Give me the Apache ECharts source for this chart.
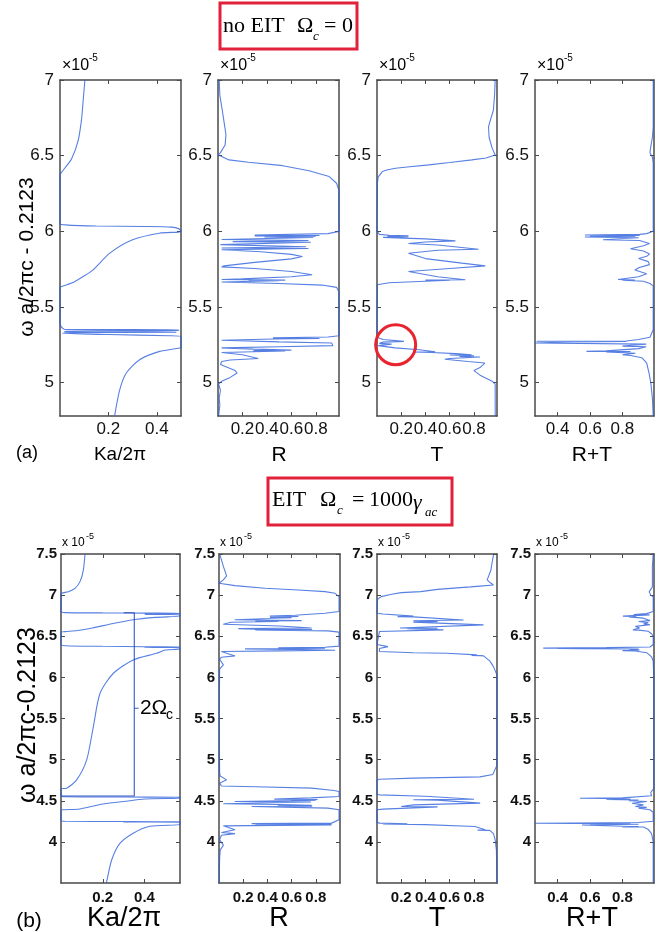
<!DOCTYPE html>
<html><head><meta charset="utf-8">
<script src="https://cdn.jsdelivr.net/npm/echarts@6/dist/echarts.min.js"></script>
<style>html,body{margin:0;padding:0;background:#fff}#c{width:669px;height:932px}</style>
</head><body><div id="c"></div>
<script>
// ---------------- DATA (x = value on panel axis, y = ω a/2πc - 0.2123 in units of 1e-5) ----------------
// (a) no EIT
const kaTopA = [[0.103,7.0],[0.096,6.87],[0.089,6.74],[0.075,6.60],[0.048,6.48],[0.021,6.42],[0.004,6.385],[0,6.38]];
const kaTopB = [[0,6.38],[0,6.05],[0.02,6.043],[0.15,6.035],[0.35,6.032],[0.46,6.028],[0.49,6.018],[0.5,6.0],[0.49,5.995],[0.41,5.988],[0.30,5.944],[0.206,5.856],[0.137,5.746],[0.096,5.702],[0.048,5.658],[0.007,5.636],[0,5.63],[0,5.40],[0.004,5.372],[0.02,5.352],[0.49,5.350],[0.49,5.344],[0.02,5.341],[0.02,5.335],[0.48,5.333],[0.05,5.33],[0.01,5.326],[0.2,5.318],[0.45,5.31],[0.5,5.305],[0.5,5.235],[0.494,5.229],[0.412,5.207],[0.329,5.152],[0.274,5.064],[0.247,4.954],[0.226,4.784]];
const rTop = [[0.01,7.0],[0.015,6.9],[0.035,6.8],[0.05,6.72],[0.065,6.64],[0.058,6.57],[0.02,6.52],[0.004,6.505],[0.09,6.472],[0.25,6.457],[0.53,6.434],[0.745,6.40],[0.91,6.362],[0.97,6.318],[0.99,6.27],[0.99,6.0],[0.9,5.985],[0.3,5.976],[0.83,5.973],[0.3,5.969],[0.8,5.966],[0.38,5.963],[0.78,5.959],[0.03,5.946],[0.74,5.94],[0.12,5.932],[0.76,5.928],[0.02,5.912],[0.72,5.898],[0.03,5.89],[0.74,5.887],[0.03,5.878],[0.35,5.865],[0.6,5.848],[0.69,5.834],[0.6,5.818],[0.3,5.795],[0.05,5.772],[0.03,5.765],[0.3,5.755],[0.6,5.735],[0.77,5.713],[0.6,5.70],[0.2,5.686],[0.03,5.682],[0.55,5.678],[0.25,5.676],[0.5,5.674],[0.03,5.665],[0.5,5.655],[0.85,5.645],[0.97,5.63],[0.99,5.60],[0.99,5.31],[0.9,5.302],[0.45,5.296],[0.83,5.292],[0.45,5.289],[0.03,5.28],[0.5,5.27],[0.93,5.262],[0.94,5.245],[0.5,5.238],[0.03,5.23],[0.29,5.222],[0.6,5.215],[0.29,5.212],[0.55,5.209],[0.03,5.2],[0.2,5.185],[0.33,5.16],[0.1,5.15],[0.03,5.14],[0.02,5.12],[0.08,5.10],[0.14,5.08],[0.156,5.064],[0.1,5.035],[0.03,5.01],[0.005,4.99],[0.02,4.95],[0.01,4.9],[0.015,4.85],[0.005,4.78]];
const tTop = [[0.975,7.0],[0.97,6.9],[0.96,6.8],[0.93,6.72],[0.92,6.69],[0.925,6.62],[0.95,6.55],[0.975,6.505],[0.9,6.485],[0.783,6.472],[0.6,6.455],[0.427,6.439],[0.25,6.425],[0.153,6.417],[0.08,6.405],[0.044,6.395],[0.01,6.36],[0.003,6.32],[0,6.0],[0.02,5.98],[0.1,5.974],[0.26,5.97],[0.085,5.967],[0.26,5.964],[0.05,5.96],[0.4,5.95],[0.647,5.937],[0.4,5.93],[0.26,5.92],[0.5,5.91],[0.838,5.882],[0.5,5.875],[0.26,5.855],[0.263,5.845],[0.4,5.82],[0.7,5.79],[0.893,5.772],[0.6,5.755],[0.26,5.735],[0.263,5.724],[0.5,5.70],[0.729,5.68],[0.4,5.678],[0.6,5.677],[0.1,5.66],[0.003,5.647],[0,5.3],[0.05,5.285],[0.222,5.273],[0.05,5.268],[0.02,5.26],[0.12,5.255],[0.01,5.245],[0.15,5.23],[0.35,5.218],[0.48,5.205],[0.3,5.203],[0.45,5.2],[0.65,5.192],[0.78,5.185],[0.6,5.183],[0.8,5.178],[0.68,5.174],[0.85,5.17],[0.6,5.16],[0.56,5.155],[0.75,5.14],[0.89,5.13],[0.85,5.1],[0.8,5.08],[0.85,5.05],[0.95,5.01],[0.975,4.99],[0.975,4.78]];
const rtTop = [[0.99,7.0],[0.99,6.69],[0.985,6.62],[0.975,6.56],[0.97,6.52],[0.985,6.49],[0.99,6.45],[0.99,6.0],[0.95,5.985],[0.906,5.98],[0.568,5.976],[0.906,5.973],[0.6,5.969],[0.88,5.966],[0.568,5.963],[0.9,5.958],[0.68,5.945],[0.906,5.94],[0.967,5.92],[0.93,5.905],[0.85,5.885],[0.93,5.87],[0.967,5.85],[0.95,5.835],[0.9,5.82],[0.96,5.8],[0.967,5.78],[0.9,5.76],[0.877,5.745],[0.95,5.72],[0.9,5.70],[0.773,5.682],[0.877,5.679],[0.8,5.677],[0.93,5.67],[0.97,5.655],[0.99,5.64],[0.99,5.35],[0.97,5.30],[0.9,5.285],[0.824,5.276],[0.27,5.274],[0.824,5.272],[0.5,5.27],[0.26,5.262],[0.947,5.255],[0.95,5.245],[0.8,5.242],[0.947,5.238],[0.9,5.225],[0.7,5.21],[0.578,5.207],[0.85,5.206],[0.7,5.204],[0.88,5.195],[0.8,5.185],[0.85,5.18],[0.92,5.165],[0.95,5.13],[0.965,5.06],[0.975,5.0],[0.985,4.9],[0.99,4.78]];
// (b) EIT
const kaBotA = [[0.115,7.5],[0.107,7.305],[0.091,7.164],[0.067,7.083],[0.035,7.042],[0.003,7.022],[0,7.0],[0,6.80],[0.02,6.787],[0.2,6.784],[0.4,6.781],[0.57,6.779],[0.57,6.77],[0.4,6.766],[0.57,6.76],[0.57,6.745],[0.45,6.73],[0.346,6.70],[0.25,6.655],[0.15,6.60],[0.08,6.57],[0.02,6.556],[0,6.55],[0,6.40],[0.02,6.385],[0.2,6.378],[0.4,6.372],[0.57,6.37],[0.4,6.365],[0.57,6.36],[0.57,6.345],[0.5,6.333],[0.458,6.293],[0.346,6.212],[0.251,6.05],[0.187,5.807],[0.155,5.402],[0.123,4.997],[0.075,4.754],[0.027,4.652],[0,4.645],[0,4.56],[0.02,4.548],[0.3,4.545],[0.57,4.543],[0.57,4.53],[0.4,4.522],[0.3,4.49],[0.2,4.46],[0.09,4.40],[0.003,4.39],[0,4.38],[0,4.26],[0.02,4.25],[0.3,4.248],[0.57,4.245],[0.3,4.242],[0.57,4.24],[0.57,4.21],[0.426,4.19],[0.346,4.106],[0.283,3.984],[0.243,3.782],[0.219,3.519],[0.218,3.5]];
const bracket2Oc = [[0.30,6.786],[0.351,6.786],[0.351,4.558],[0,4.558]];
const bracketDash = [[0.351,5.625],[0.372,5.625]];
const rBot = [[0.008,7.49],[0.036,7.35],[0.063,7.233],[0.036,7.185],[0.0,7.144],[0.008,7.124],[0.132,7.115],[0.38,7.083],[0.656,7.063],[0.876,7.043],[0.959,7.022],[0.992,6.982],[0.992,6.80],[0.876,6.779],[0.628,6.755],[0.42,6.745],[0.656,6.74],[0.421,6.73],[0.6,6.725],[0.13,6.70],[0.683,6.69],[0.3,6.685],[0.49,6.68],[0.1,6.67],[0.035,6.645],[0.5,6.625],[0.766,6.60],[0.16,6.593],[0.3,6.585],[0.77,6.582],[0.3,6.578],[0.9,6.565],[0.992,6.55],[0.992,6.38],[0.876,6.366],[0.49,6.36],[0.876,6.355],[0.215,6.346],[0.6,6.34],[0.959,6.33],[0.5,6.322],[0.02,6.314],[0.03,6.29],[0.132,6.261],[0.02,6.245],[0.005,6.22],[0.036,6.152],[0.005,6.10],[0.002,5.5],[0.005,4.85],[0.01,4.80],[0.063,4.754],[0.005,4.714],[0.02,4.68],[0.3,4.67],[0.766,4.653],[0.95,4.625],[0.992,4.613],[0.992,4.552],[0.76,4.535],[0.457,4.52],[0.815,4.515],[0.595,4.51],[0.8,4.505],[0.13,4.491],[0.76,4.485],[0.036,4.463],[0.5,4.455],[0.766,4.445],[0.485,4.44],[0.77,4.435],[0.27,4.43],[0.9,4.41],[0.992,4.39],[0.992,4.268],[0.93,4.228],[0.27,4.222],[0.93,4.215],[0.3,4.21],[0.93,4.207],[0.036,4.195],[0.132,4.147],[0.02,4.114],[0.132,4.1],[0.02,4.08],[0.005,4.025],[0.036,3.96],[0.01,3.90],[0.005,3.8],[0.002,3.5]];
const tBot = [[0.961,7.49],[0.95,7.4],[0.94,7.306],[0.909,7.185],[0.935,7.15],[0.961,7.124],[0.85,7.11],[0.77,7.10],[0.5,7.07],[0.36,7.043],[0.2,7.03],[0.12,7.01],[0.035,6.982],[0.02,6.965],[0.005,6.95],[0.0,6.78],[0.05,6.771],[0.3,6.745],[0.17,6.739],[0.3,6.735],[0.714,6.698],[0.3,6.688],[0.5,6.68],[0.3,6.672],[0.879,6.638],[0.19,6.6],[0.5,6.597],[0.25,6.592],[0.548,6.577],[0.02,6.557],[0.0,6.40],[0.09,6.374],[0.02,6.35],[0.02,6.314],[0.3,6.30],[0.576,6.293],[0.824,6.273],[0.78,6.268],[0.85,6.265],[0.879,6.261],[0.93,6.2],[0.961,6.131],[0.989,6.03],[0.989,4.93],[0.99,4.916],[0.955,4.82],[0.85,4.79],[0.3,4.775],[0.02,4.762],[0.0,4.75],[0.0,4.58],[0.02,4.572],[0.4,4.555],[0.8,4.519],[0.5,4.515],[0.3,4.512],[0.5,4.508],[0.851,4.471],[0.3,4.45],[0.2,4.43],[0.5,4.425],[0.05,4.398],[0.0,4.39],[0.0,4.24],[0.02,4.228],[0.25,4.22],[0.05,4.218],[0.4,4.21],[0.807,4.187],[0.893,4.147],[0.83,4.143],[0.93,4.14],[0.961,4.1],[0.975,4.025],[0.985,3.9],[0.99,3.5]];
const rtBot = [[0.99,7.5],[0.985,7.35],[0.985,7.1],[0.965,7.04],[0.975,7.0],[0.99,6.98],[0.99,6.80],[0.95,6.775],[0.87,6.765],[0.968,6.76],[0.803,6.745],[0.886,6.74],[0.84,6.735],[0.93,6.72],[0.92,6.70],[0.97,6.69],[0.9,6.68],[0.96,6.665],[0.93,6.65],[0.97,6.64],[0.88,6.62],[0.906,6.60],[0.865,6.578],[0.9,6.575],[0.96,6.56],[0.98,6.53],[0.99,6.50],[0.99,6.40],[0.97,6.37],[0.7,6.362],[0.311,6.356],[0.5,6.354],[0.4,6.352],[0.55,6.35],[0.9,6.345],[0.844,6.34],[0.906,6.333],[0.8,6.325],[0.88,6.32],[0.95,6.30],[0.98,6.25],[0.99,6.2],[0.994,6.0],[0.994,4.65],[0.975,4.6],[0.98,4.56],[0.99,4.545],[0.8,4.535],[0.537,4.531],[0.7,4.529],[0.85,4.52],[0.7,4.517],[0.9,4.51],[0.84,4.5],[0.95,4.49],[0.86,4.47],[0.93,4.45],[0.88,4.43],[0.95,4.42],[0.9,4.41],[0.97,4.39],[0.99,4.36],[0.99,4.25],[0.9,4.235],[0.5,4.23],[0.26,4.227],[0.5,4.225],[0.7,4.224],[0.85,4.222],[0.6,4.22],[0.9,4.215],[0.55,4.205],[0.8,4.19],[0.85,4.187],[0.9,4.186],[0.8,4.182],[0.93,4.18],[0.96,4.15],[0.98,4.1],[0.99,4.0],[0.99,3.5]];
const circleMark = [0.154, 5.251];
const omegaLabelAt = [0.378, 5.625];

// tick values
const yTicksTop = [5, 5.5, 6, 6.5, 7];
const yTicksBot = [4, 4.5, 5, 5.5, 6, 6.5, 7, 7.5];
const xTicksKa = [0.2, 0.4];
const xTicksRT = [0.2, 0.4, 0.6, 0.8];
const xTicksSum = [0.4, 0.6, 0.8];
const xNames = ['Ka/2π', 'R', 'T', 'R+T'];

// ---------------- LAYOUT ----------------
const panels = [
  {g:{left:60,top:80,width:121,height:336}, x:[0,0.5], xt:xTicksKa, y:[4.78,7], yt:yTicksTop, row:0, lines:[kaTopA,kaTopB], smooth:0.25},
  {g:{left:218,top:80,width:121,height:336}, x:[0,0.99], xt:xTicksRT, y:[4.78,7], yt:yTicksTop, row:0, lines:[rTop]},
  {g:{left:377,top:80,width:120,height:336}, x:[0,0.99], xt:xTicksRT, y:[4.78,7], yt:yTicksTop, row:0, lines:[tTop]},
  {g:{left:535,top:80,width:119,height:336}, x:[0.26,0.995], xt:xTicksSum, y:[4.78,7], yt:yTicksTop, row:0, lines:[rtTop]},
  {g:{left:61,top:554,width:119,height:329}, x:[0,0.57], xt:xTicksKa, y:[3.5,7.5], yt:yTicksBot, row:1, lines:[kaBotA], smooth:0.25},
  {g:{left:219,top:554,width:121,height:329}, x:[0,1], xt:xTicksRT, y:[3.5,7.5], yt:yTicksBot, row:1, lines:[rBot]},
  {g:{left:377,top:554,width:120,height:329}, x:[0,0.99], xt:xTicksRT, y:[3.5,7.5], yt:yTicksBot, row:1, lines:[tBot]},
  {g:{left:535,top:554,width:119,height:329}, x:[0.26,0.995], xt:xTicksSum, y:[3.5,7.5], yt:yTicksBot, row:1, lines:[rtBot]}
];

const AX = '#4a4a4a';
const LINE = 'rgba(40,92,218,0.78)';
const labTop = {fontSize:17, fontFamily:'Liberation Sans, Arial', color:'#111'};
const labBot = {fontSize:15, fontWeight:'bold', fontFamily:"'Liberation Sans Narrow', 'Liberation Sans', Arial", color:'#111'};

const grid = [], xAxis = [], yAxis = [], series = [];
panels.forEach((p, i) => {
  grid.push(Object.assign({containLabel:false}, p.g));
  const lab = p.row === 0 ? labTop : labBot;
  const base = (pos, ticks, min, max, showLab, margin) => ({
    gridIndex:i, type:'value', position:pos, min, max,
    axisLine:{show:true, onZero:false, lineStyle:{color:AX, width:1.5}},
    axisTick:{show:true, inside:true, length:4, customValues:ticks, lineStyle:{color:AX, width:1}},
    axisLabel:Object.assign({show:showLab, customValues:ticks, margin, hideOverlap:false}, lab),
    splitLine:{show:false}, silent:true
  });
  xAxis.push(base('bottom', p.xt, p.x[0], p.x[1], true, p.row === 0 ? 5 : 7));
  xAxis.push(base('top', p.xt, p.x[0], p.x[1], false, 0));
  yAxis.push(base('left', p.yt, p.y[0], p.y[1], true, p.row === 0 ? 6 : 4));
  yAxis.push(base('right', p.yt, p.y[0], p.y[1], false, 0));
  p.lines.forEach(d => series.push({
    type:'line', data:d, xAxisIndex:2*i, yAxisIndex:2*i, showSymbol:false, symbol:'none', smooth:p.smooth || false,
    lineStyle:{color:LINE, width:1.1}, silent:true, animation:false
  }));
});
series.push({type:'line', data:bracket2Oc, xAxisIndex:8, yAxisIndex:8, showSymbol:false, symbol:'none', lineStyle:{color:'rgba(30,70,190,0.9)', width:1.1}, silent:true, animation:false});
series.push({type:'line', data:bracketDash, xAxisIndex:8, yAxisIndex:8, showSymbol:false, symbol:'none', lineStyle:{color:'rgba(30,70,190,0.9)', width:1.1}, silent:true, animation:false});

const chart = echarts.init(document.getElementById('c'), null, {renderer:'canvas'});
chart.setOption({animation:false, backgroundColor:'#fff', grid, xAxis, yAxis, series});

// ---------------- TEXT / ANNOTATIONS ----------------
const T = (text, x, y, size, opts) => ({type:'text', x, y, silent:true, z:100, rotation:(opts && opts.rot) || 0,
  style:Object.assign({text, fontSize:size, fontFamily:'Liberation Sans, Arial', fill:'#000', textAlign:'center', textVerticalAlign:'middle'}, (opts && opts.st) || {})});
const serif = {fontFamily:'Liberation Serif, Times New Roman', textAlign:'left'};
const serifI = Object.assign({fontStyle:'italic'}, serif);
const g = [];
// title boxes
g.push({type:'rect', shape:{x:220,y:3,width:137,height:46}, style:{fill:'#fff', stroke:'#e2213a', lineWidth:3}, z:90});
g.push(T('no EIT', 223, 26, 22, {st:serif}));
g.push(T('Ω', 297, 26, 22, {st:serif}));
g.push(T('c', 313, 37, 13, {st:serifI}));
g.push(T('= 0', 324, 26, 22, {st:serif}));
g.push({type:'rect', shape:{x:268,y:478,width:184,height:47}, style:{fill:'#fff', stroke:'#e2213a', lineWidth:3}, z:90});
g.push(T('EIT', 272, 500, 22, {st:serif}));
g.push(T('Ω', 320, 500, 22, {st:serif}));
g.push(T('c', 337, 511, 13, {st:serifI}));
g.push(T('=', 352, 500, 22, {st:serif}));
g.push(T('1000', 369, 500, 22, {st:serif}));
g.push(T('γ', 413, 503, 22, {st:serifI}));
g.push(T('ac', 425, 513, 13, {st:serifI}));
// y-axis names
g.push(T('ω a/2πc - 0.2123', 27, 257, 21, {rot:Math.PI/2}));
g.push(T('ω a/2πc-0.2123', 28, 715, 25, {rot:Math.PI/2}));
// x-axis names
const xc = [120, 279, 437, 592];
xNames.forEach((n, k) => {
  g.push(T(n, xc[k], 455, k === 0 ? 19 : 21));
  g.push(T(n, xc[k] + (k === 0 ? 4 : 0), 919, 27, {st:{fontFamily:"'Liberation Sans Narrow', 'Liberation Sans', Arial"}}));
});
g.push(T('(a)', 27, 453, 18));
g.push(T('(b)', 29, 921, 21));
// x 10^-5 labels
panels.forEach(p => {
  if (p.row === 0) {
    g.push(T('×10', p.g.left + 2, 66, 16, {st:{textAlign:'left'}}));
    g.push(T('-5', p.g.left + 29, 58, 10, {st:{textAlign:'left'}}));
  } else {
    g.push(T('x 10', p.g.left + 1, 543, 12, {st:{textAlign:'left'}}));
    g.push(T('-5', p.g.left + 25, 537, 9, {st:{textAlign:'left'}}));
  }
});
// red circle (T panel, top) and 2Ωc label (Ka panel, bottom)
const cpt = chart.convertToPixel({xAxisIndex:4, yAxisIndex:4}, circleMark);
g.push({type:'circle', shape:{cx:cpt[0], cy:cpt[1], r:20}, style:{fill:'none', stroke:'#e8242e', lineWidth:3}, z:95, silent:true});
const opt = chart.convertToPixel({xAxisIndex:8, yAxisIndex:8}, omegaLabelAt);
g.push(T('2Ω', opt[0], opt[1], 21, {st:{textAlign:'left'}}));
g.push(T('c', opt[0] + 26, opt[1] + 7, 14, {st:{textAlign:'left'}}));
chart.setOption({graphic:g});
</script></body></html>
